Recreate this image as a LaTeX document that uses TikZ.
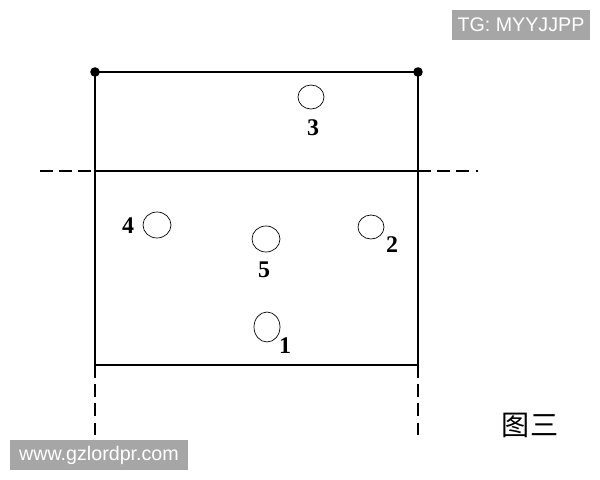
\documentclass[tikz,border=0pt]{standalone}
\usepackage{fontspec}
\setmainfont{Liberation Serif}
\setsansfont{Liberation Sans}
\newfontfamily\cjkfont{Noto Sans CJK SC}
\usetikzlibrary{positioning,calc,shapes.geometric}

\tikzset{
  hole/.style={draw,ellipse,line width=0.5pt,inner sep=0pt},
  frameline/.style={line width=1.1pt},
  cutline/.style={line width=1.1pt,dash pattern=on 3.2mm off 1.6mm},
  num/.style={font=\bfseries\fontsize{17}{20}\selectfont},
  tagbox/.style={fill=black!35,text=white,font=\sffamily\fontsize{14}{16}\selectfont,minimum height=0.75cm,inner sep=0pt}
}

\begin{document}
\begin{tikzpicture}[x=0.25cm,y=-0.25cm]
    \useasboundingbox (0,0) rectangle (60,48);
    % frame corners
    \coordinate (tl) at (9.5,7.2);
    \coordinate (tr) at (41.8,7.2);
    \coordinate (ml) at (9.5,17.1);
    \coordinate (mr) at (41.8,17.1);
    \coordinate (bl) at (9.5,36.5);
    \coordinate (br) at (41.8,36.5);
    \coordinate (ml0) at (4.0,17.1);
    \coordinate (mr0) at (47.8,17.1);
    \coordinate (bl0) at (9.5,44.3);
    \coordinate (br0) at (41.8,44.0);
    \draw[frameline] (tl)--(tr)--(br)--(bl)--cycle;
    \draw[frameline] (ml)--(mr);
    \draw[cutline] (ml0)--(ml);
    \draw[cutline] (mr)--(mr0);
    \draw[cutline] (bl)--(bl0);
    \draw[cutline] (br)--(br0);
    \fill (tl) circle[radius=0.12cm];
    \fill (tr) circle[radius=0.12cm];
    % holes
    \node[hole,minimum width=0.65cm,minimum height=0.6cm] (h3) at (31.1,9.7) {};
    \node[hole,minimum width=0.7cm,minimum height=0.65cm] (h4) at (15.7,22.5) {};
    \node[hole,minimum width=0.7cm,minimum height=0.65cm] (h5) at (26.6,23.9) {};
    \node[hole,minimum width=0.65cm,minimum height=0.6cm] (h2) at (37.1,22.7) {};
    \node[hole,minimum width=0.65cm,minimum height=0.75cm] (h1) at (26.7,32.7) {};
    \node[num] (n3) at (31.3,12.8) {3};
    \node[num] (n4) at (12.8,22.6) {4};
    \node[num] (n5) at (26.4,27.0) {5};
    \node[num] (n2) at (39.2,24.5) {2};
    \node[num] (n1) at (28.5,34.6) {1};
    % caption and tags
    \node[font=\cjkfont\fontsize{20}{24}\selectfont] (cap) at (53.0,42.5) {图三};
    \node[tagbox,minimum width=3.45cm] (tg) at (52.1,2.5) {TG: MYYJJPP};
    \node[tagbox,minimum width=4.45cm] (www) at (9.9,45.5) {www.gzlordpr.com};
\end{tikzpicture}
\end{document}
